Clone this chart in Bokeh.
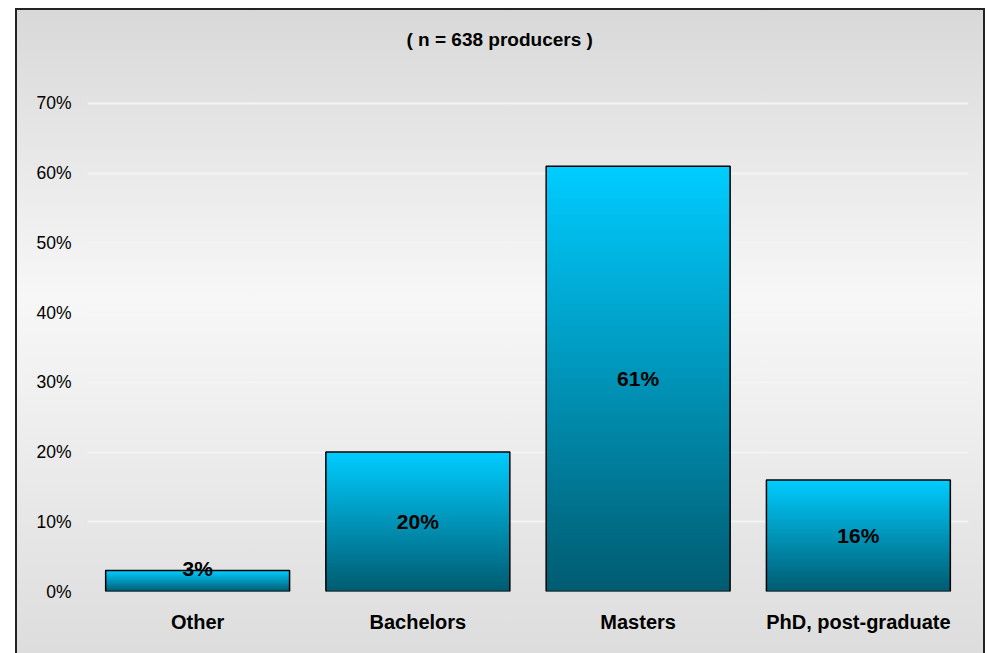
from bokeh.plotting import figure
from bokeh.models import FactorRange, Range1d, FixedTicker, ColumnDataSource, Spacer, Title
from bokeh.layouts import column, row
from bokeh.core.properties import value
from bokeh.embed import file_html
from bokeh.resources import INLINE

# Highest level of education among surveyed producers
categories = ["Other", "Bachelors", "Masters", "PhD, post-graduate"]
shares = [3, 20, 61, 16]
value_labels = ["3%", "20%", "61%", "16%"]
tick_values = [0, 10, 20, 30, 40, 50, 60, 70]
tick_labels = ["0%", "10%", "20%", "30%", "40%", "50%", "60%", "70%"]
title_text = "( n = 638 producers )"

FONT = "Liberation Sans"
BAR_WIDTH = 0.835
TOP_COLOR = (0x00, 0xCC, 0xFF)
BOTTOM_COLOR = (0x00, 0x5C, 0x71)
STEPS = 80

p = figure(
    x_range=FactorRange(*categories),
    y_range=Range1d(0, 71),
    width=970, height=645,
    output_backend="svg", toolbar_location=None,
    min_border_left=72, min_border_right=17,
    min_border_top=88, min_border_bottom=62,
)
p.background_fill_color = None
p.border_fill_color = None
p.outline_line_color = None
p.styles = {
    "background": "linear-gradient(to bottom, #D8D8D8 0%, #F7F7F7 45%, #DDDDDD 100%)",
    "box-shadow": "inset 2px 2px 0 #222222, inset -2px 0 0 #222222",
}

# Empty strip between frame and title to lift the title up
p.add_layout(Title(text=" ", text_font_size="10px", standoff=34), "above")

# Title, centred over the whole chart box
p.title.text = title_text
p.title.align = "left"
p.title.offset = 319
p.title.standoff = 0
p.title.text_font = FONT
p.title.text_font_style = "bold"
p.title.text_font_size = "19px"
p.title.text_color = "black"

# Grid
p.xgrid.grid_line_color = None
p.ygrid.grid_line_color = "#F4F4F4"
p.ygrid.grid_line_width = 2
p.yaxis.ticker = FixedTicker(ticks=tick_values)
p.yaxis.major_label_overrides = {t: s for t, s in zip(tick_values, tick_labels)}

# Axes
for ax in (p.xaxis, p.yaxis):
    ax.axis_line_color = None
    ax.major_tick_line_color = None
    ax.minor_tick_line_color = None
    ax.major_tick_out = 0
    ax.major_tick_in = 0
    ax.major_label_text_font = FONT
    ax.major_label_text_color = "black"
p.yaxis.major_label_text_font_size = "17.5px"
p.yaxis.major_label_standoff = 16
p.xaxis.major_label_text_font_size = "20px"
p.xaxis.major_label_text_font_style = "bold"
p.xaxis.major_label_standoff = 19

# Bars: vertical shading built from overlapping strips, dark at the base
xs, bottoms, tops, colors = [], [], [], []
for cat, v in zip(categories, shares):
    for k in range(STEPS):
        t = k / (STEPS - 1)
        c = tuple(round(b + (a - b) * t) for a, b in zip(TOP_COLOR, BOTTOM_COLOR))
        xs.append(cat)
        bottoms.append(v * k / STEPS)
        tops.append(v)
        colors.append("#%02X%02X%02X" % c)
p.vbar(x=xs, bottom=bottoms, top=tops, width=BAR_WIDTH, fill_color=colors, line_color=None)

src = ColumnDataSource(dict(
    x=categories,
    top=shares,
    label=value_labels,
    label_y=[max(v / 2, 3.3) for v in shares],
))
p.vbar(x="x", top="top", width=BAR_WIDTH, source=src,
       fill_color=None, line_color="black", line_width=1.5)

p.text(x="x", y="label_y", text="label", source=src,
       text_align="center", text_baseline="middle",
       text_font=value(FONT), text_font_style="bold",
       text_font_size="21px", text_color="black")

layout = column(Spacer(height=8), row(Spacer(width=15), p))
open("out.html", "w").write(file_html(layout, INLINE))
